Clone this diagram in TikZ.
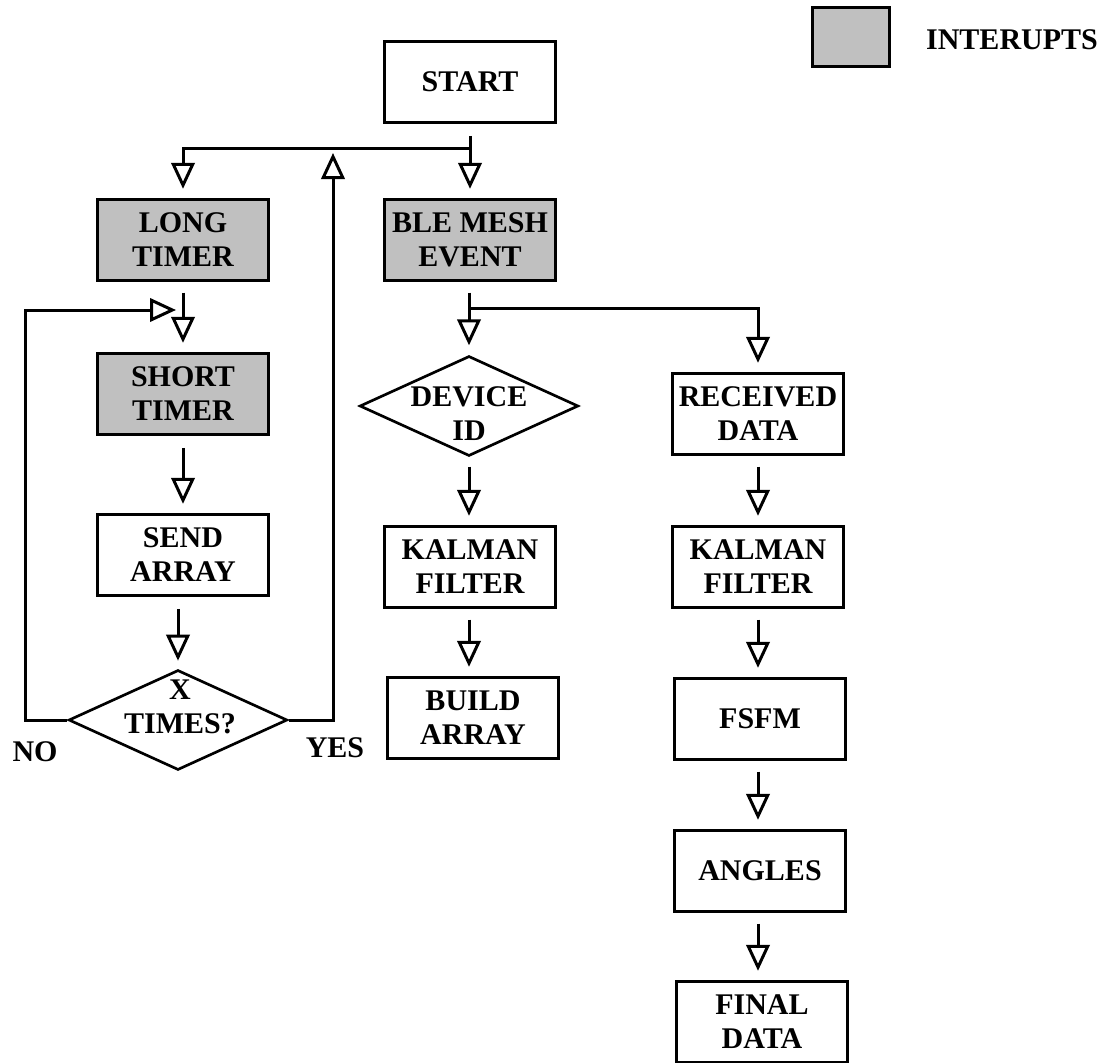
\documentclass[tikz,border=0pt]{standalone}
\usepackage{fontspec}
\setmainfont{Liberation Serif}
\usetikzlibrary{shapes.geometric,arrows.meta,calc}
\definecolor{intgray}{HTML}{C0C0C0}
\begin{document}
\begin{tikzpicture}[x=0.75pt,y=-0.75pt,
  every node/.style={font=\fontsize{22.5}{25.5}\selectfont\bfseries, align=center},
  box/.style={draw, line width=2.25pt, minimum width=128pt, minimum height=60.5pt, inner sep=0pt},
  intbox/.style={box, fill=intgray},
  dia/.style={diamond, draw, line width=2pt, minimum width=164pt, minimum height=75pt, inner sep=0pt},
  conn/.style={line width=2.25pt},
  arr/.style={conn, -{Triangle[open, length=19.5pt, width=17.5pt, line width=2.25pt]}},
  lbl/.style={inner sep=0pt}
]
\useasboundingbox (0,0) rectangle (1106,1063);

% legend
\node[intbox, minimum width=58pt, minimum height=44pt] (leg) at (851,37) {};
\node[lbl] (legt) at (1012,40) {INTERUPTS};

% nodes
\node[box] (start) at (470,82) {START};
\node[intbox] (lt) at (183,240) {LONG\\TIMER};
\node[intbox] (ble) at (470,240) {BLE MESH\\EVENT};
\node[intbox] (st) at (183,394) {SHORT\\TIMER};
\node[box] (sa) at (183,555) {SEND\\ARRAY};
\node[dia] (xt) at (178,720) {};
\node[lbl] (xtt) at (180,707) {X\\TIMES?};
\node[lbl] (no) at (35,752) {NO};
\node[lbl] (yes) at (335,748) {YES};

\node[dia] (dev) at (469,406) {};
\node[lbl] (devt) at (469,414) {DEVICE\\ID};
\node[box] (kf1) at (470,567) {KALMAN\\FILTER};
\node[box] (ba) at (473,718) {BUILD\\ARRAY};

\node[box] (rd) at (758,414) {RECEIVED\\DATA};
\node[box] (kf2) at (758,567) {KALMAN\\FILTER};
\node[box] (fsfm) at (760,719) {FSFM};
\node[box] (ang) at (760,871) {ANGLES};
\node[box] (fd) at (762,1022) {FINAL\\DATA};

% connectors
\coordinate (sp) at (470,148);
\draw[conn] ([yshift=-9pt]start.south) -- (sp);
\draw[arr] (sp) -- ([yshift=7pt]sp |- ble.north);
\draw[arr] (sp) -| ([yshift=7pt]lt.north);

\draw[arr] ([yshift=-8pt]lt.south) -- ([yshift=7pt]lt.south |- st.north);
\coordinate (loopin) at (176,310);
\draw[arr] (xt.west) -- (25,720) |- (loopin);
\coordinate (yesend) at (333,153);
\draw[arr] (xt.east) -- (333,720) -- (yesend);
\draw[arr] ([yshift=-9pt]st.south) -- ([yshift=7pt]st.south |- sa.north);
\draw[arr] ([yshift=-9pt]sa.south -| xt.north) -- ([yshift=6pt]xt.north);

\coordinate (sp2) at (469,308);
\draw[conn] ([yshift=-8pt]sp2 |- ble.south) -- (sp2);
\draw[arr] (sp2) -- ([yshift=7pt]dev.north);
\draw[arr] (sp2) -| ([yshift=7pt]rd.north);
\draw[arr] ([yshift=-7pt]dev.south) -- ([yshift=7pt]dev.south |- kf1.north);
\draw[arr] ([yshift=-8pt]dev.south |- kf1.south) -- ([yshift=7pt]dev.south |- ba.north);

\draw[arr] ([yshift=-8pt]rd.south) -- ([yshift=7pt]rd.south |- kf2.north);
\draw[arr] ([yshift=-8pt]rd.south |- kf2.south) -- ([yshift=7pt]rd.south |- fsfm.north);
\draw[arr] ([yshift=-8pt]rd.south |- fsfm.south) -- ([yshift=7pt]rd.south |- ang.north);
\draw[arr] ([yshift=-8pt]rd.south |- ang.south) -- ([yshift=7pt]rd.south |- fd.north);
\end{tikzpicture}
\end{document}
